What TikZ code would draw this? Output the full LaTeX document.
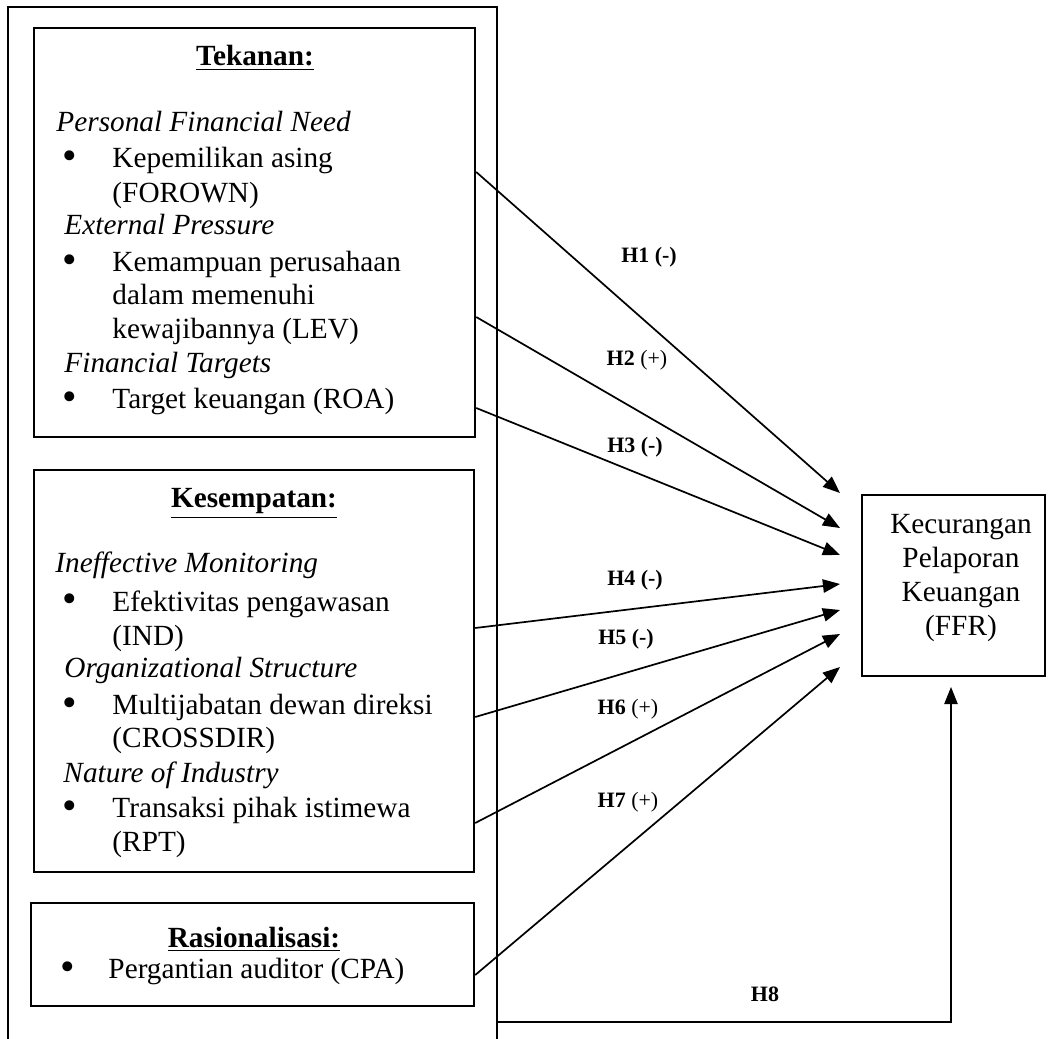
\documentclass[tikz,border=0pt]{standalone}
\usepackage{fontspec}
\setmainfont{Liberation Serif}
\usetikzlibrary{fit,arrows.meta}

\begin{document}
\begin{tikzpicture}[
		x=0.41pt, y=-0.41pt,
		every node/.style={inner sep=0pt, font=\fontsize{12}{14}\selectfont},
		box/.style={draw, line width=1pt, inner sep=0pt},
		frame/.style={line width=0.45pt},
		title/.style={anchor=base, font=\fontsize{12}{14}\selectfont\bfseries},
		hd/.style={anchor=base west, font=\fontsize{12}{14}\selectfont\itshape},
		bul/.style={anchor=base, font=\fontsize{17}{14}\selectfont},
		tx/.style={anchor=base west},
		lbl/.style={font=\fontsize{9}{11}\selectfont\bfseries},
		hyp/.style={line width=0.7pt, -{Triangle[length=7pt,width=5.5pt]}}
	]
	\useasboundingbox (0,0) rectangle (1048,1039);
	
	% frame around the three factors
	\draw[frame] (8,1039) -- (8,7) -- (497,7) -- (497,1039);
	
	% boxes
	\node(tek)[box, fit={(34,28) (475,437)}] {};
	\node(kes)[box, fit={(34,470) (474,872)}] {};
	\node(ras)[box, fit={(31,903) (474,1006)}] {};
	\node(ffr)[box, fit={(862,495) (1045,676)}] {};
	
	% Tekanan
	\node(tektitle)[title] at (255,66) {\underline{Tekanan:}};
	\node(pfn)[hd] at (56,132) {Personal Financial Need};
	\node(b1)[bul] at (70,170) {\textbullet};
	\node(forown)[tx] at (112,168) {Kepemilikan asing};
	\node(forown2)[tx] at (112,203) {(FOROWN)};
	\node(ep)[hd] at (64,235) {External Pressure};
	\node(b2)[bul] at (70,274) {\textbullet};
	\node(lev)[tx] at (112,272) {Kemampuan perusahaan};
	\node(lev2)[tx] at (112,305) {dalam memenuhi};
	\node(lev3)[tx] at (112,339) {kewajibannya (LEV)};
	\node(ft)[hd] at (64,373) {Financial Targets};
	\node(b3)[bul] at (70,411) {\textbullet};
	\node(roa)[tx] at (112,409) {Target keuangan (ROA)};
	
	% Kesempatan
	\node(kestitle)[title] at (254,508) {\underline{Kesempatan:}};
	\node(im)[hd] at (55,573) {Ineffective Monitoring};
	\node(b4)[bul] at (70,613) {\textbullet};
	\node(ind)[tx] at (112,611) {Efektivitas pengawasan};
	\node(ind2)[tx] at (112,645) {(IND)};
	\node(os)[hd] at (64,677) {Organizational Structure};
	\node(b5)[bul] at (70,716) {\textbullet};
	\node(cross)[tx] at (112,714) {Multijabatan dewan direksi};
	\node(cross2)[tx] at (112,747) {(CROSSDIR)};
	\node(noi)[hd] at (63,782) {Nature of Industry};
	\node(b6)[bul] at (70,819) {\textbullet};
	\node(rpt)[tx] at (112,817) {Transaksi pihak istimewa};
	\node(rpt2)[tx] at (112,851) {(RPT)};
	
	% Rasionalisasi
	\node(rastitle)[title] at (254,947) {\underline{Rasionalisasi:}};
	\node(b7)[bul] at (68,980) {\textbullet};
	\node(cpa)[tx] at (108,978) {Pergantian auditor (CPA)};
	
	% FFR
	\node(ffrtxt)[align=center] at (961,578) {Kecurangan\\Pelaporan\\Keuangan\\(FFR)};
	
	% arrow ends
	\coordinate (e1) at (840,493);
	\coordinate (e2) at (840,528);
	\coordinate (e3) at (840,555);
	\coordinate (e4) at (840,584);
	\coordinate (e5) at (840,610);
	\coordinate (e6) at (840,634);
	\coordinate (e7) at (840,667);
	\coordinate (h8s) at (497,1022);
	\coordinate (h8e) at (951,687);
	
	\draw[hyp] (tek.east |- 0,172) -- (e1);
	\draw[hyp] (tek.east |- 0,317) -- (e2);
	\draw[hyp] (tek.east |- 0,408) -- (e3);
	\draw[hyp] (kes.east |- 0,628) -- (e4);
	\draw[hyp] (kes.east |- 0,717) -- (e5);
	\draw[hyp] (kes.east |- 0,823) -- (e6);
	\draw[hyp] (ras.east |- 0,975) -- (e7);
	\draw[hyp, line width=0.5pt] (h8s) -| (h8e);
	
	% hypothesis labels
	\node(l1)[lbl] at (649,257) {H1 (-)};
	\node(l2)[lbl] at (637,360) {H2 \mdseries(+)};
	\node(l3)[lbl] at (635,447) {H3 (-)};
	\node(l4)[lbl] at (635,580) {H4 (-)};
	\node(l5)[lbl] at (626,639) {H5 (-)};
	\node(l6)[lbl] at (628,709) {H6 \mdseries(+)};
	\node(l7)[lbl] at (628,802) {H7 \mdseries(+)};
	\node(l8)[lbl] at (765,994) {H8};
	
\end{tikzpicture}
\end{document}
